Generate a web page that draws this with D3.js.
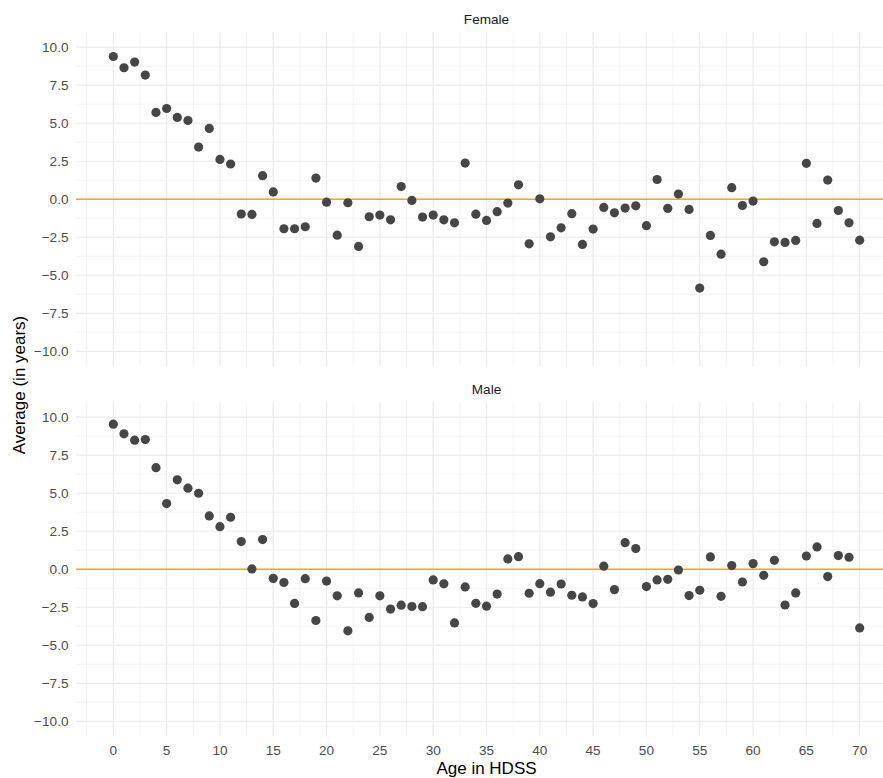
<!DOCTYPE html>
<html>
<head>
<meta charset="utf-8">
<script src="https://cdn.jsdelivr.net/npm/d3@7"></script>
<style>
  body { margin: 0; background: #ffffff; }
  text { font-family: "Liberation Sans", Arial, Helvetica, sans-serif; }
</style>
</head>
<body>
<div id="chart"></div>
<script>
// data: average (in years) per age in HDSS, by sex
var ages = d3.range(0, 71);

var femaleAvg = [
    9.39, 8.65, 9.02, 8.17, 5.71, 5.97, 5.38, 5.18, 3.43, 4.66,
    2.62, 2.32, -0.97, -1.00, 1.55, 0.48, -1.94, -1.94, -1.81, 1.39,
    -0.19, -2.36, -0.23, -3.10, -1.15, -1.04, -1.35, 0.84, -0.08, -1.17,
    -1.04, -1.35, -1.55, 2.38, -0.98, -1.39, -0.82, -0.25, 0.95, -2.93,
    0.03, -2.47, -1.88, -0.95, -2.97, -1.96, -0.54, -0.89, -0.58, -0.43,
    -1.74, 1.30, -0.60, 0.34, -0.67, -5.84, -2.38, -3.61, 0.76, -0.41,
    -0.12, -4.11, -2.80, -2.84, -2.71, 2.36, -1.59, 1.26, -0.74, -1.55,
    -2.69
];

var maleAvg = [
    9.54, 8.91, 8.49, 8.53, 6.68, 4.32, 5.88, 5.33, 5.00, 3.51,
    2.80, 3.42, 1.82, 0.02, 1.95, -0.60, -0.87, -2.25, -0.62, -3.37,
    -0.78, -1.75, -4.05, -1.56, -3.17, -1.75, -2.62, -2.36, -2.45, -2.46,
    -0.70, -0.96, -3.53, -1.16, -2.24, -2.43, -1.63, 0.68, 0.83, -1.58,
    -0.95, -1.51, -0.97, -1.71, -1.82, -2.26, 0.20, -1.34, 1.75, 1.36,
    -1.14, -0.70, -0.66, -0.05, -1.73, -1.38, 0.81, -1.78, 0.24, -0.84,
    0.37, -0.40, 0.59, -2.35, -1.56, 0.87, 1.47, -0.48, 0.90, 0.79,
    -3.86
];

var panelNames = ["Female", "Male"];
var xTicks = d3.range(0, 71, 5);
var xMinor = d3.range(-2.5, 73, 5);
var yTicks = [-10, -7.5, -5, -2.5, 0, 2.5, 5, 7.5, 10];
var yMinor = [-8.75, -6.25, -3.75, -1.25, 1.25, 3.75, 6.25, 8.75];

// layout (the original plot is a bit wider than the window, so the right edge gets cut)
var width = 883, height = 778;
var panel_left = 76, panel_right = 897;
var panel_tops = [32, 402], panel_h = 334.5;

var svg = d3.select("#chart")
    .append("svg")
    .attr("width", width)
    .attr("height", height);

var x = d3.scaleLinear()
    .domain([-3.5, 73.5])
    .range([panel_left, panel_right]);

var fmt = function(v) { return d3.format(".1f")(v).replace("-", "\u2212"); };

var series = [femaleAvg, maleAvg];

for (let p = 0; p < panelNames.length; p++) {
    let ptop = panel_tops[p];
    let y = d3.scaleLinear()
        .domain([-11, 11])
        .range([ptop + panel_h, ptop]);

    let g = svg.append("g");

    // minor grid
    g.selectAll(".xminor").data(xMinor).enter().append("line")
        .attr("x1", d => x(d)).attr("x2", d => x(d))
        .attr("y1", ptop).attr("y2", ptop + panel_h)
        .attr("stroke", "#ebebeb").attr("stroke-width", 0.6);
    g.selectAll(".yminor").data(yMinor).enter().append("line")
        .attr("x1", panel_left).attr("x2", panel_right)
        .attr("y1", d => y(d)).attr("y2", d => y(d))
        .attr("stroke", "#ebebeb").attr("stroke-width", 0.6);

    // major grid
    g.selectAll(".xmajor").data(xTicks).enter().append("line")
        .attr("x1", d => x(d)).attr("x2", d => x(d))
        .attr("y1", ptop).attr("y2", ptop + panel_h)
        .attr("stroke", "#ebebeb").attr("stroke-width", 1.2);
    g.selectAll(".ymajor").data(yTicks).enter().append("line")
        .attr("x1", panel_left).attr("x2", panel_right)
        .attr("y1", d => y(d)).attr("y2", d => y(d))
        .attr("stroke", "#ebebeb").attr("stroke-width", 1.2);

    // y tick labels
    g.selectAll(".ylab").data(yTicks).enter().append("text")
        .attr("x", 68.5)
        .attr("y", d => y(d) + 4.8)
        .attr("text-anchor", "end")
        .style("font-size", "13.6px")
        .style("fill", "#4d4d4d")
        .text(fmt);

    // strip title
    g.append("text")
        .attr("x", (panel_left + panel_right) / 2)
        .attr("y", ptop - 8)
        .attr("text-anchor", "middle")
        .style("font-size", "13.6px")
        .style("fill", "#1a1a1a")
        .text(panelNames[p]);

    // reference line at zero
    g.append("line")
        .attr("x1", panel_left).attr("x2", panel_right)
        .attr("y1", y(0)).attr("y2", y(0))
        .attr("stroke", "#FFA500")
        .attr("stroke-width", 1.4);

    // points
    let vals = series[p];
    g.selectAll(".pt").data(ages).enter().append("circle")
        .attr("cx", d => x(d))
        .attr("cy", (d, i) => y(vals[i]))
        .attr("r", 4.6)
        .attr("fill", "#464646");
}

// x tick labels only under the bottom panel
svg.selectAll(".xlab").data(xTicks).enter().append("text")
    .attr("x", d => x(d))
    .attr("y", 754.5)
    .attr("text-anchor", "middle")
    .style("font-size", "13.6px")
    .style("fill", "#4d4d4d")
    .text(d => d);

// axis titles
svg.append("text")
    .attr("x", (panel_left + panel_right) / 2)
    .attr("y", 774)
    .attr("text-anchor", "middle")
    .style("font-size", "17px")
    .style("fill", "#000000")
    .text("Age in HDSS");

svg.append("text")
    .attr("transform", "translate(25,385) rotate(-90)")
    .attr("text-anchor", "middle")
    .style("font-size", "17px")
    .style("fill", "#000000")
    .text("Average (in years)");
</script>
</body>
</html>
